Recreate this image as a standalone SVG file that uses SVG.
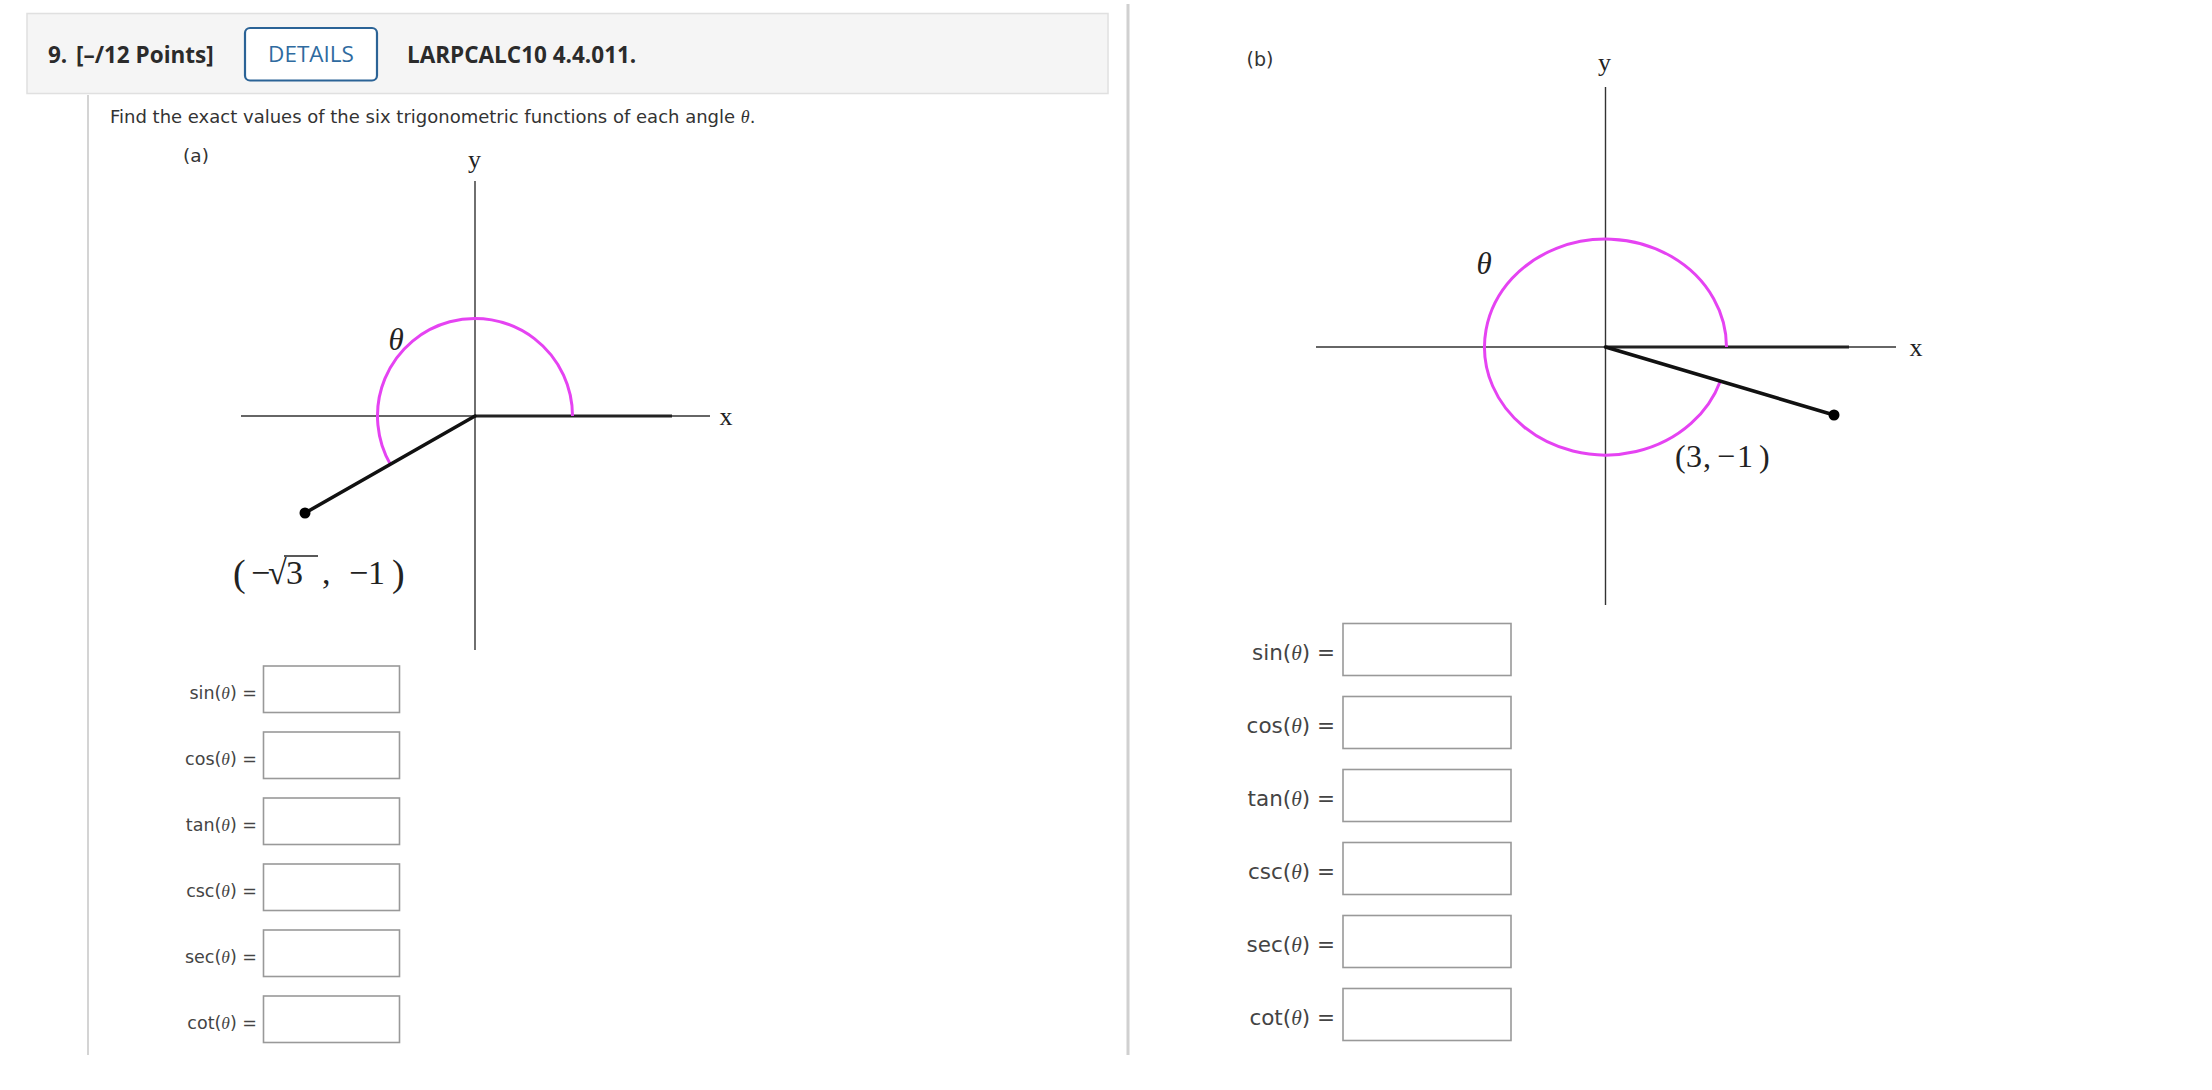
<svg xmlns="http://www.w3.org/2000/svg" width="2212" height="1090" viewBox="0 0 2212 1090">
<style>
.hd{font-family:"Open Sans","Liberation Sans",sans-serif;font-weight:700;font-size:22.5px;fill:#2b2b2b}
.body{font-family:"DejaVu Sans","Liberation Sans",sans-serif;fill:#333}
.th{font-family:"Liberation Serif",serif;font-style:italic}
.ser{font-family:"Liberation Serif",serif;fill:#222}
.ax{stroke:#333;stroke-width:1.4;fill:none}
.term{stroke:#111;stroke-width:3.5;fill:none;stroke-linecap:round}
.pos{stroke:#222;stroke-width:3;fill:none}
.arc{stroke:#e543f2;stroke-width:3;fill:none}
.box{fill:#fff;stroke:#999;stroke-width:1.6}
.lbl{font-family:"DejaVu Sans","Liberation Sans",sans-serif;fill:#444;text-anchor:end}
</style>
<rect width="2212" height="1090" fill="#fff"/>
<g id="page-lines">
<line x1="88" y1="95" x2="88" y2="1055" stroke="#d4d4d4" stroke-width="2"/>
<line x1="1128" y1="4" x2="1128" y2="1055" stroke="#d0d0d0" stroke-width="3"/>
</g>
<g id="header">
<rect x="27" y="13.5" width="1081" height="80" fill="#f5f5f5" stroke="#e0e0e0" stroke-width="1.5"/>
<text class="hd" x="48" y="63">9.<tspan x="76">[–/12 Points]</tspan></text>
<rect x="245" y="28" width="132" height="52.5" rx="5" fill="#fff" stroke="#2b6396" stroke-width="2.2"/>
<text x="311" y="62" text-anchor="middle" font-family="Open Sans, Liberation Sans, sans-serif" font-size="22.5" fill="#2f6ba0">DETAILS</text>
<text class="hd" x="407" y="63" font-size="22">LARPCALC10 4.4.011.</text>
</g>
<g id="question">
<text class="body" x="110" y="123" font-size="18">Find the exact values of the six trigonometric functions of each angle <tspan class="th">θ</tspan>.</text>
</g>
<g id="figure-a">
<text class="body" x="196" y="162" font-size="18.5" text-anchor="middle">(a)</text>
<line class="ax" x1="475" y1="181" x2="475" y2="650"/>
<line class="ax" x1="241" y1="416" x2="710" y2="416"/>
<line class="pos" x1="475" y1="416" x2="672" y2="416"/>
<path class="arc" d="M572.5 416 A97.5 97.5 0 1 0 390.6 464.75"/>
<line class="term" x1="475" y1="416" x2="305" y2="513"/>
<circle cx="305" cy="513" r="5.5" fill="#000"/>
<text class="ser" x="474.5" y="168" font-size="26" text-anchor="middle">y</text>
<text class="ser" x="726" y="425" font-size="26" text-anchor="middle">x</text>
<text class="ser th" x="396" y="350" font-size="31" text-anchor="middle">θ</text>
<text class="ser" y="584" font-size="34"><tspan x="233" font-size="38" y="586">(</tspan><tspan x="251" y="584">−</tspan><tspan x="268">√</tspan><tspan x="286">3</tspan><tspan x="322">,</tspan><tspan x="349">−</tspan><tspan x="368">1</tspan><tspan x="392" font-size="38" y="586">)</tspan></text>
<line x1="284" y1="556" x2="318" y2="556" stroke="#222" stroke-width="1.6"/>
</g>
<g id="figure-b">
<text class="body" x="1260" y="66" font-size="19" text-anchor="middle">(b)</text>
<line class="ax" x1="1605.5" y1="87" x2="1605.5" y2="605"/>
<line class="ax" x1="1316" y1="347" x2="1896" y2="347"/>
<line class="pos" x1="1605.5" y1="347" x2="1849" y2="347"/>
<path class="arc" d="M1726.5 347 A121 108 0 1 0 1720.3 381.2"/>
<line class="term" x1="1605.5" y1="347" x2="1834" y2="415"/>
<circle cx="1834" cy="415" r="5.5" fill="#000"/>
<text class="ser" x="1604.5" y="71" font-size="26" text-anchor="middle">y</text>
<text class="ser" x="1916" y="356" font-size="26" text-anchor="middle">x</text>
<text class="ser th" x="1484" y="274" font-size="31" text-anchor="middle">θ</text>
<text class="ser" y="467" font-size="32"><tspan x="1675">(</tspan><tspan x="1686">3</tspan><tspan x="1703">,</tspan><tspan x="1717">−</tspan><tspan x="1737">1</tspan><tspan x="1759">)</tspan></text>
</g>
<g id="answers-a" font-size="17.5">
<rect class="box" x="263.5" y="666" width="136" height="46.5"/>
<rect class="box" x="263.5" y="732" width="136" height="46.5"/>
<rect class="box" x="263.5" y="798" width="136" height="46.5"/>
<rect class="box" x="263.5" y="864" width="136" height="46.5"/>
<rect class="box" x="263.5" y="930" width="136" height="46.5"/>
<rect class="box" x="263.5" y="996" width="136" height="46.5"/>
<text class="lbl" x="257" y="699">sin(<tspan class="th">θ</tspan>) =</text>
<text class="lbl" x="257" y="765">cos(<tspan class="th">θ</tspan>) =</text>
<text class="lbl" x="257" y="831">tan(<tspan class="th">θ</tspan>) =</text>
<text class="lbl" x="257" y="897">csc(<tspan class="th">θ</tspan>) =</text>
<text class="lbl" x="257" y="963">sec(<tspan class="th">θ</tspan>) =</text>
<text class="lbl" x="257" y="1029">cot(<tspan class="th">θ</tspan>) =</text>
</g>
<g id="answers-b" font-size="21.5">
<rect class="box" x="1343" y="623.5" width="168" height="52"/>
<rect class="box" x="1343" y="696.5" width="168" height="52"/>
<rect class="box" x="1343" y="769.5" width="168" height="52"/>
<rect class="box" x="1343" y="842.5" width="168" height="52"/>
<rect class="box" x="1343" y="915.5" width="168" height="52"/>
<rect class="box" x="1343" y="988.5" width="168" height="52"/>
<text class="lbl" x="1335" y="660">sin(<tspan class="th">θ</tspan>) =</text>
<text class="lbl" x="1335" y="733">cos(<tspan class="th">θ</tspan>) =</text>
<text class="lbl" x="1335" y="806">tan(<tspan class="th">θ</tspan>) =</text>
<text class="lbl" x="1335" y="879">csc(<tspan class="th">θ</tspan>) =</text>
<text class="lbl" x="1335" y="952">sec(<tspan class="th">θ</tspan>) =</text>
<text class="lbl" x="1335" y="1025">cot(<tspan class="th">θ</tspan>) =</text>
</g>
</svg>
